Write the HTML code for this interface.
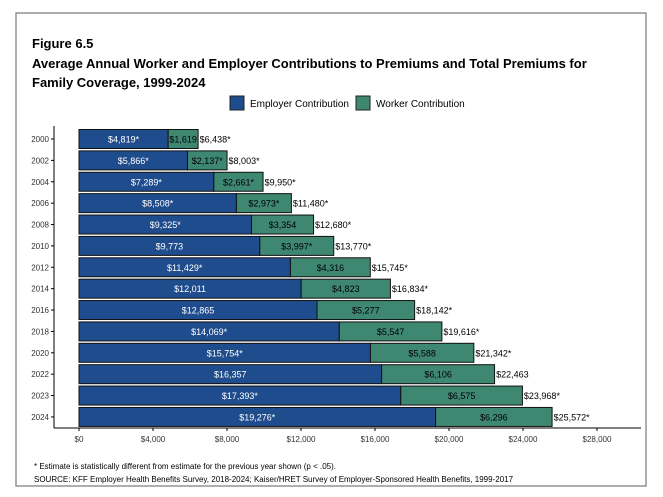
<!DOCTYPE html>
<html><head><meta charset="utf-8"><style>
body{margin:0;background:#fff;font-family:"Liberation Sans",Arial,sans-serif;}
svg text{font-family:"Liberation Sans",Arial,sans-serif;}
</style></head><body>
<svg id="c" width="663" height="492" xmlns="http://www.w3.org/2000/svg">
<rect x="16" y="13" width="630" height="473" fill="#fff" stroke="#777" stroke-width="1.2"/>
<text x="32" y="48" font-size="13" font-weight="bold" fill="#000">Figure 6.5</text>
<text x="32" y="68" font-size="13" font-weight="bold" fill="#000">Average Annual Worker and Employer Contributions to Premiums and Total Premiums for</text>
<text x="32" y="87" font-size="13" font-weight="bold" fill="#000">Family Coverage, 1999-2024</text>
<g>
<rect x="230" y="96" width="14" height="14" fill="#1f4c8c" stroke="#222"/>
<text x="250" y="107" font-size="10">Employer Contribution</text>
<rect x="356" y="96" width="14" height="14" fill="#3e8771" stroke="#222"/>
<text x="376" y="107" font-size="10">Worker Contribution</text>
</g>
<line x1="54" y1="126" x2="54" y2="428" stroke="#000"/>
<line x1="54" y1="428" x2="641" y2="428" stroke="#000"/>
<g id="marks"></g>
<text x="34" y="469" font-size="8">* Estimate is statistically different from estimate for the previous year shown (p &lt; .05).</text>
<text x="34" y="482" font-size="8">SOURCE: KFF Employer Health Benefits Survey, 2018-2024; Kaiser/HRET Survey of Employer-Sponsored Health Benefits, 1999-2017</text>
</svg>
<script>
const years=["2000","2002","2004","2006","2008","2010","2012","2014","2016","2018","2020","2022","2023","2024"];
const employer=[4819,5866,7289,8508,9325,9773,11429,12011,12865,14069,15754,16357,17393,19276];
const worker=[1619,2137,2661,2973,3354,3997,4316,4823,5277,5547,5588,6106,6575,6296];
const total=[6438,8003,9950,11480,12680,13770,15745,16834,18142,19616,21342,22463,23968,25572];
const employerStar=[1,1,1,1,1,0,1,0,0,1,1,0,1,1];
const workerStar=[0,1,1,1,0,1,0,0,0,0,0,0,0,0];
const totalStar=[1,1,1,1,1,1,1,1,1,1,1,0,1,1];
const ticks=[0,4000,8000,12000,16000,20000,24000,28000];
const NS="http://www.w3.org/2000/svg";
const g=document.getElementById('marks');
const x=v=>79+v*0.0185;
const y=i=>139+i*21.38;
const fmt=v=>"$"+v.toLocaleString("en-US");
function mk(t,a){const e=document.createElementNS(NS,t);for(const k in a)e.setAttribute(k,a[k]);g.appendChild(e);return e;}
ticks.forEach(t=>{
 const l=mk('line',{x1:x(t),x2:x(t),y1:428,y2:431,stroke:'#000'});
 
 
 const tx=mk('text',{x:x(t),y:442,'font-size':8,'text-anchor':'middle',fill:'#333'});tx.textContent=fmt(t);
 
 
});
years.forEach((yr,i)=>{
 const cy=y(i),h=19;
 const l=mk('line',{x1:51,x2:54,y1:cy,y2:cy,stroke:'#000'});
 
 
 const yl=mk('text',{x:49,y:cy+3,'font-size':8,'text-anchor':'end',fill:'#333'});yl.textContent=yr;
 
 
 const b1=mk('rect',{x:x(0),y:cy-h/2,width:x(employer[i])-x(0),height:h,fill:'#1f4c8c',stroke:'#111','stroke-width':1});
 
 
 const b2=mk('rect',{x:x(employer[i]),y:cy-h/2,width:x(employer[i]+worker[i])-x(employer[i]),height:h,fill:'#3e8771',stroke:'#111','stroke-width':1});
 
 
 const t1=mk('text',{x:(x(0)+x(employer[i]))/2,y:cy+3.5,'font-size':9,'text-anchor':'middle',fill:'#fff'});t1.textContent=fmt(employer[i])+(employerStar[i]?'*':'');
 
 
 const t2=mk('text',{x:(x(employer[i])+x(employer[i]+worker[i]))/2,y:cy+3.5,'font-size':9,'text-anchor':'middle',fill:'#000'});t2.textContent=fmt(worker[i])+(workerStar[i]?'*':'');
 
 
 const t3=mk('text',{x:x(employer[i]+worker[i])+1.5,y:cy+3.5,'font-size':9,fill:'#000'});t3.textContent=fmt(total[i])+(totalStar[i]?'*':'');
 
 
});
</script>
</body></html>
